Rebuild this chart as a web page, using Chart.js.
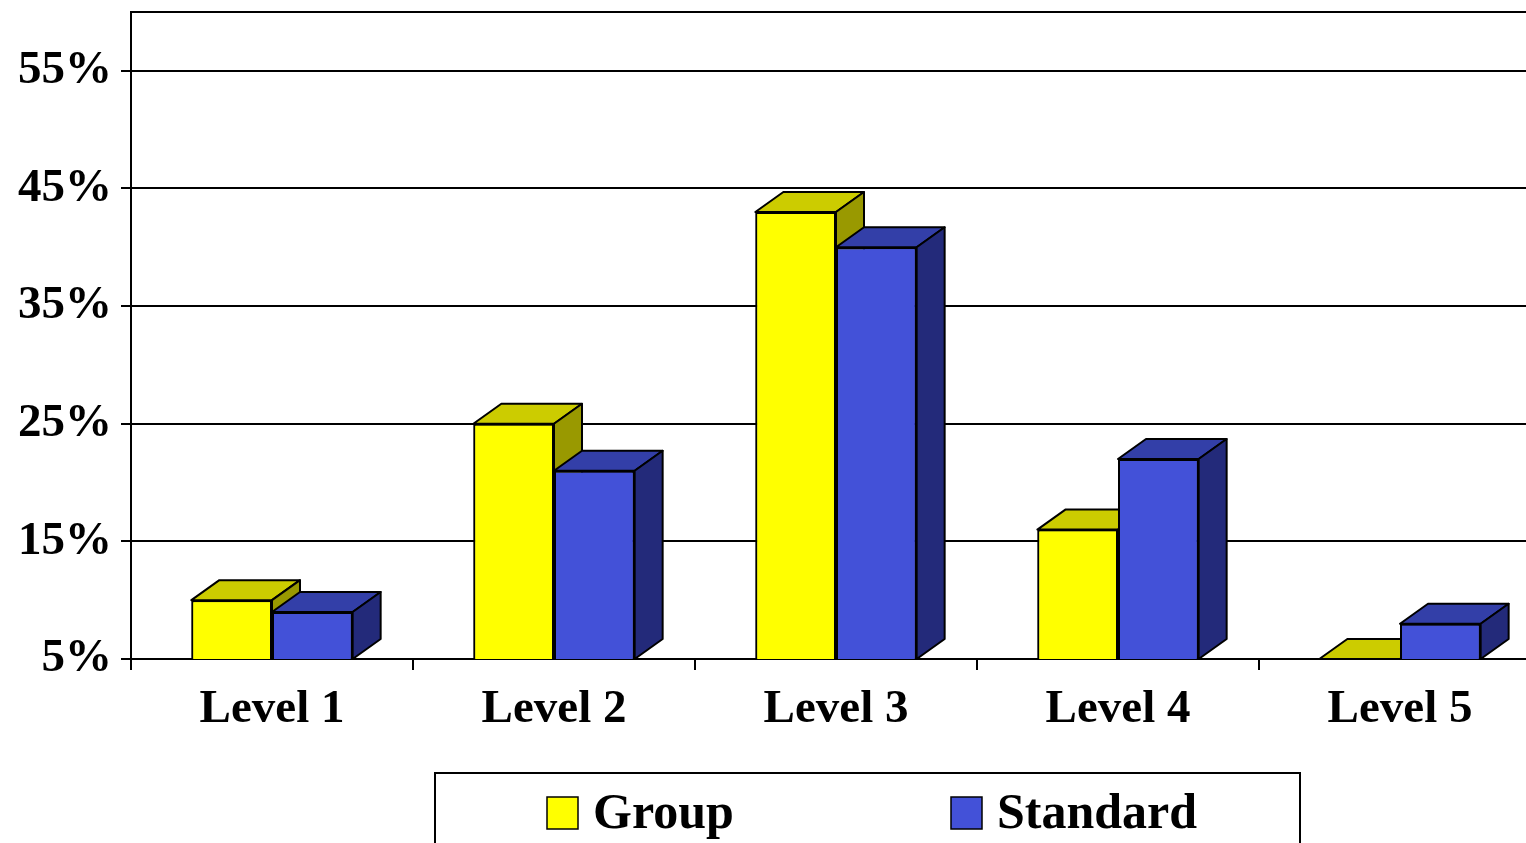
<!DOCTYPE html>
<html>
<head>
<meta charset="utf-8">
<title>Levels</title>
<script src="https://cdn.jsdelivr.net/npm/chart.js@4.4.1/dist/chart.umd.min.js"></script>
<style>
  html, body { margin: 0; padding: 0; overflow: hidden; background: #fff; }
  #wrap { width: 1541px; height: 843px; }
</style>
</head>
<body>
<div id="wrap"><canvas id="bars"></canvas></div>
<script>
const categories = ['Level 1', 'Level 2', 'Level 3', 'Level 4', 'Level 5'];
const groupValues = [10, 25, 43, 16, 5];
const standardValues = [9, 21, 40, 22, 8];
const yTicks = [5, 15, 25, 35, 45, 55];

const font = "'Liberation Serif', 'Times New Roman', serif";
const depthX = 28;
const depthY = 20;

// top / side face colours for each dataset
const faces = [
  { top: '#CCCC00', side: '#999900' },
  { top: '#333FA8', side: '#232A7A' },
];

// redraws the bars left to right, each with its 3D top and side
const bar3d = {
  id: 'bar3d',
  afterDatasetsDraw(chart) {
    const ctx = chart.ctx;
    const a = chart.chartArea;
    const floor = chart.scales.y.bottom;
    ctx.save();
    chart.data.datasets.forEach(function (ds, i) {
      const meta = chart.getDatasetMeta(i);
      const f = faces[i];
      meta.data.forEach(function (bar) {
        const p = bar.getProps(['x', 'y', 'base', 'width'], true);
        const base = Math.min(p.base, floor);
        const l = p.x - p.width / 2;
        const r = p.x + p.width / 2;

        ctx.save();
        ctx.beginPath();
        ctx.rect(a.left, a.top, a.right - a.left, a.bottom - a.top);
        ctx.clip();
        bar.draw(ctx);
        ctx.restore();

        ctx.lineWidth = 2;
        ctx.strokeStyle = '#000';
        ctx.lineJoin = 'round';
        ctx.beginPath();
        ctx.moveTo(l, p.y);
        ctx.lineTo(l + depthX, p.y - depthY);
        ctx.lineTo(r + depthX, p.y - depthY);
        ctx.lineTo(r, p.y);
        ctx.closePath();
        ctx.fillStyle = f.top;
        ctx.fill();
        ctx.stroke();
        ctx.beginPath();
        ctx.moveTo(r, p.y);
        ctx.lineTo(r + depthX, p.y - depthY);
        ctx.lineTo(r + depthX, base - depthY);
        ctx.lineTo(r, base);
        ctx.closePath();
        ctx.fillStyle = f.side;
        ctx.fill();
        ctx.stroke();
      });
    });
    ctx.restore();
  }
};

// top border of plot and the boxed legend at the bottom
const frame = {
  id: 'frame',
  afterDraw(chart) {
    const ctx = chart.ctx;
    const a = chart.chartArea;
    ctx.save();
    ctx.strokeStyle = '#000';
    ctx.lineWidth = 2;
    ctx.beginPath();
    ctx.moveTo(a.left, a.top);
    ctx.lineTo(a.right, a.top);
    ctx.stroke();

    ctx.strokeRect(435, 773, 865, 90);
    const items = [
      { x: 547, label: 'Group', color: '#FFFF00' },
      { x: 951, label: 'Standard', color: '#4351D8' },
    ];
    ctx.font = 'bold 50px ' + font;
    ctx.textBaseline = 'middle';
    items.forEach(function (it) {
      ctx.fillStyle = it.color;
      ctx.fillRect(it.x, 797, 31, 32);
      ctx.lineWidth = 1.5;
      ctx.strokeRect(it.x, 797, 31, 32);
      ctx.fillStyle = '#000';
      ctx.fillText(it.label, it.x + 46, 815);
    });
    ctx.restore();
  }
};

const data = {
  labels: categories,
  datasets: [
    {
      label: 'Group',
      data: groupValues,
      backgroundColor: '#FFFF00',
      borderColor: '#000',
      borderWidth: 2,
    },
    {
      label: 'Standard',
      data: standardValues,
      backgroundColor: '#4351D8',
      borderColor: '#000',
      borderWidth: 2,
    },
  ],
};

const config = {
  type: 'bar',
  data: data,
  plugins: [bar3d, frame],
  options: {
    responsive: true,
    maintainAspectRatio: false,
    animation: false,
    barPercentage: 1,
    categoryPercentage: 0.572,
    layout: { padding: { top: 12, bottom: 84, left: 0, right: 0 } },
    plugins: {
      legend: { display: false },
      tooltip: { enabled: false },
    },
    scales: {
      x: {
        afterFit(scale) { scale.height = 100; },
        grid: { drawOnChartArea: false, drawTicks: true, tickLength: 11, color: '#000', lineWidth: 2 },
        border: { color: '#000', width: 2 },
        ticks: { color: '#000', padding: 12, font: { family: font, size: 47, weight: 'bold' } },
      },
      y: {
        min: 5,
        max: 60,
        afterFit(scale) {
          scale.width = 131;
          scale.paddingTop = 0;
          scale.paddingBottom = 0;
        },
        afterBuildTicks(scale) { scale.ticks = yTicks.map(v => ({ value: v })); },
        grid: { color: '#000', lineWidth: 2, tickLength: 10 },
        border: { color: '#000', width: 2 },
        ticks: {
          color: '#000',
          padding: 9,
          font: { family: font, size: 47, weight: 'bold' },
          callback: function (v) { return v + '%'; },
        },
      },
    },
  },
};

var myChart = new Chart(document.getElementById('bars'), config);
</script>
</body>
</html>
